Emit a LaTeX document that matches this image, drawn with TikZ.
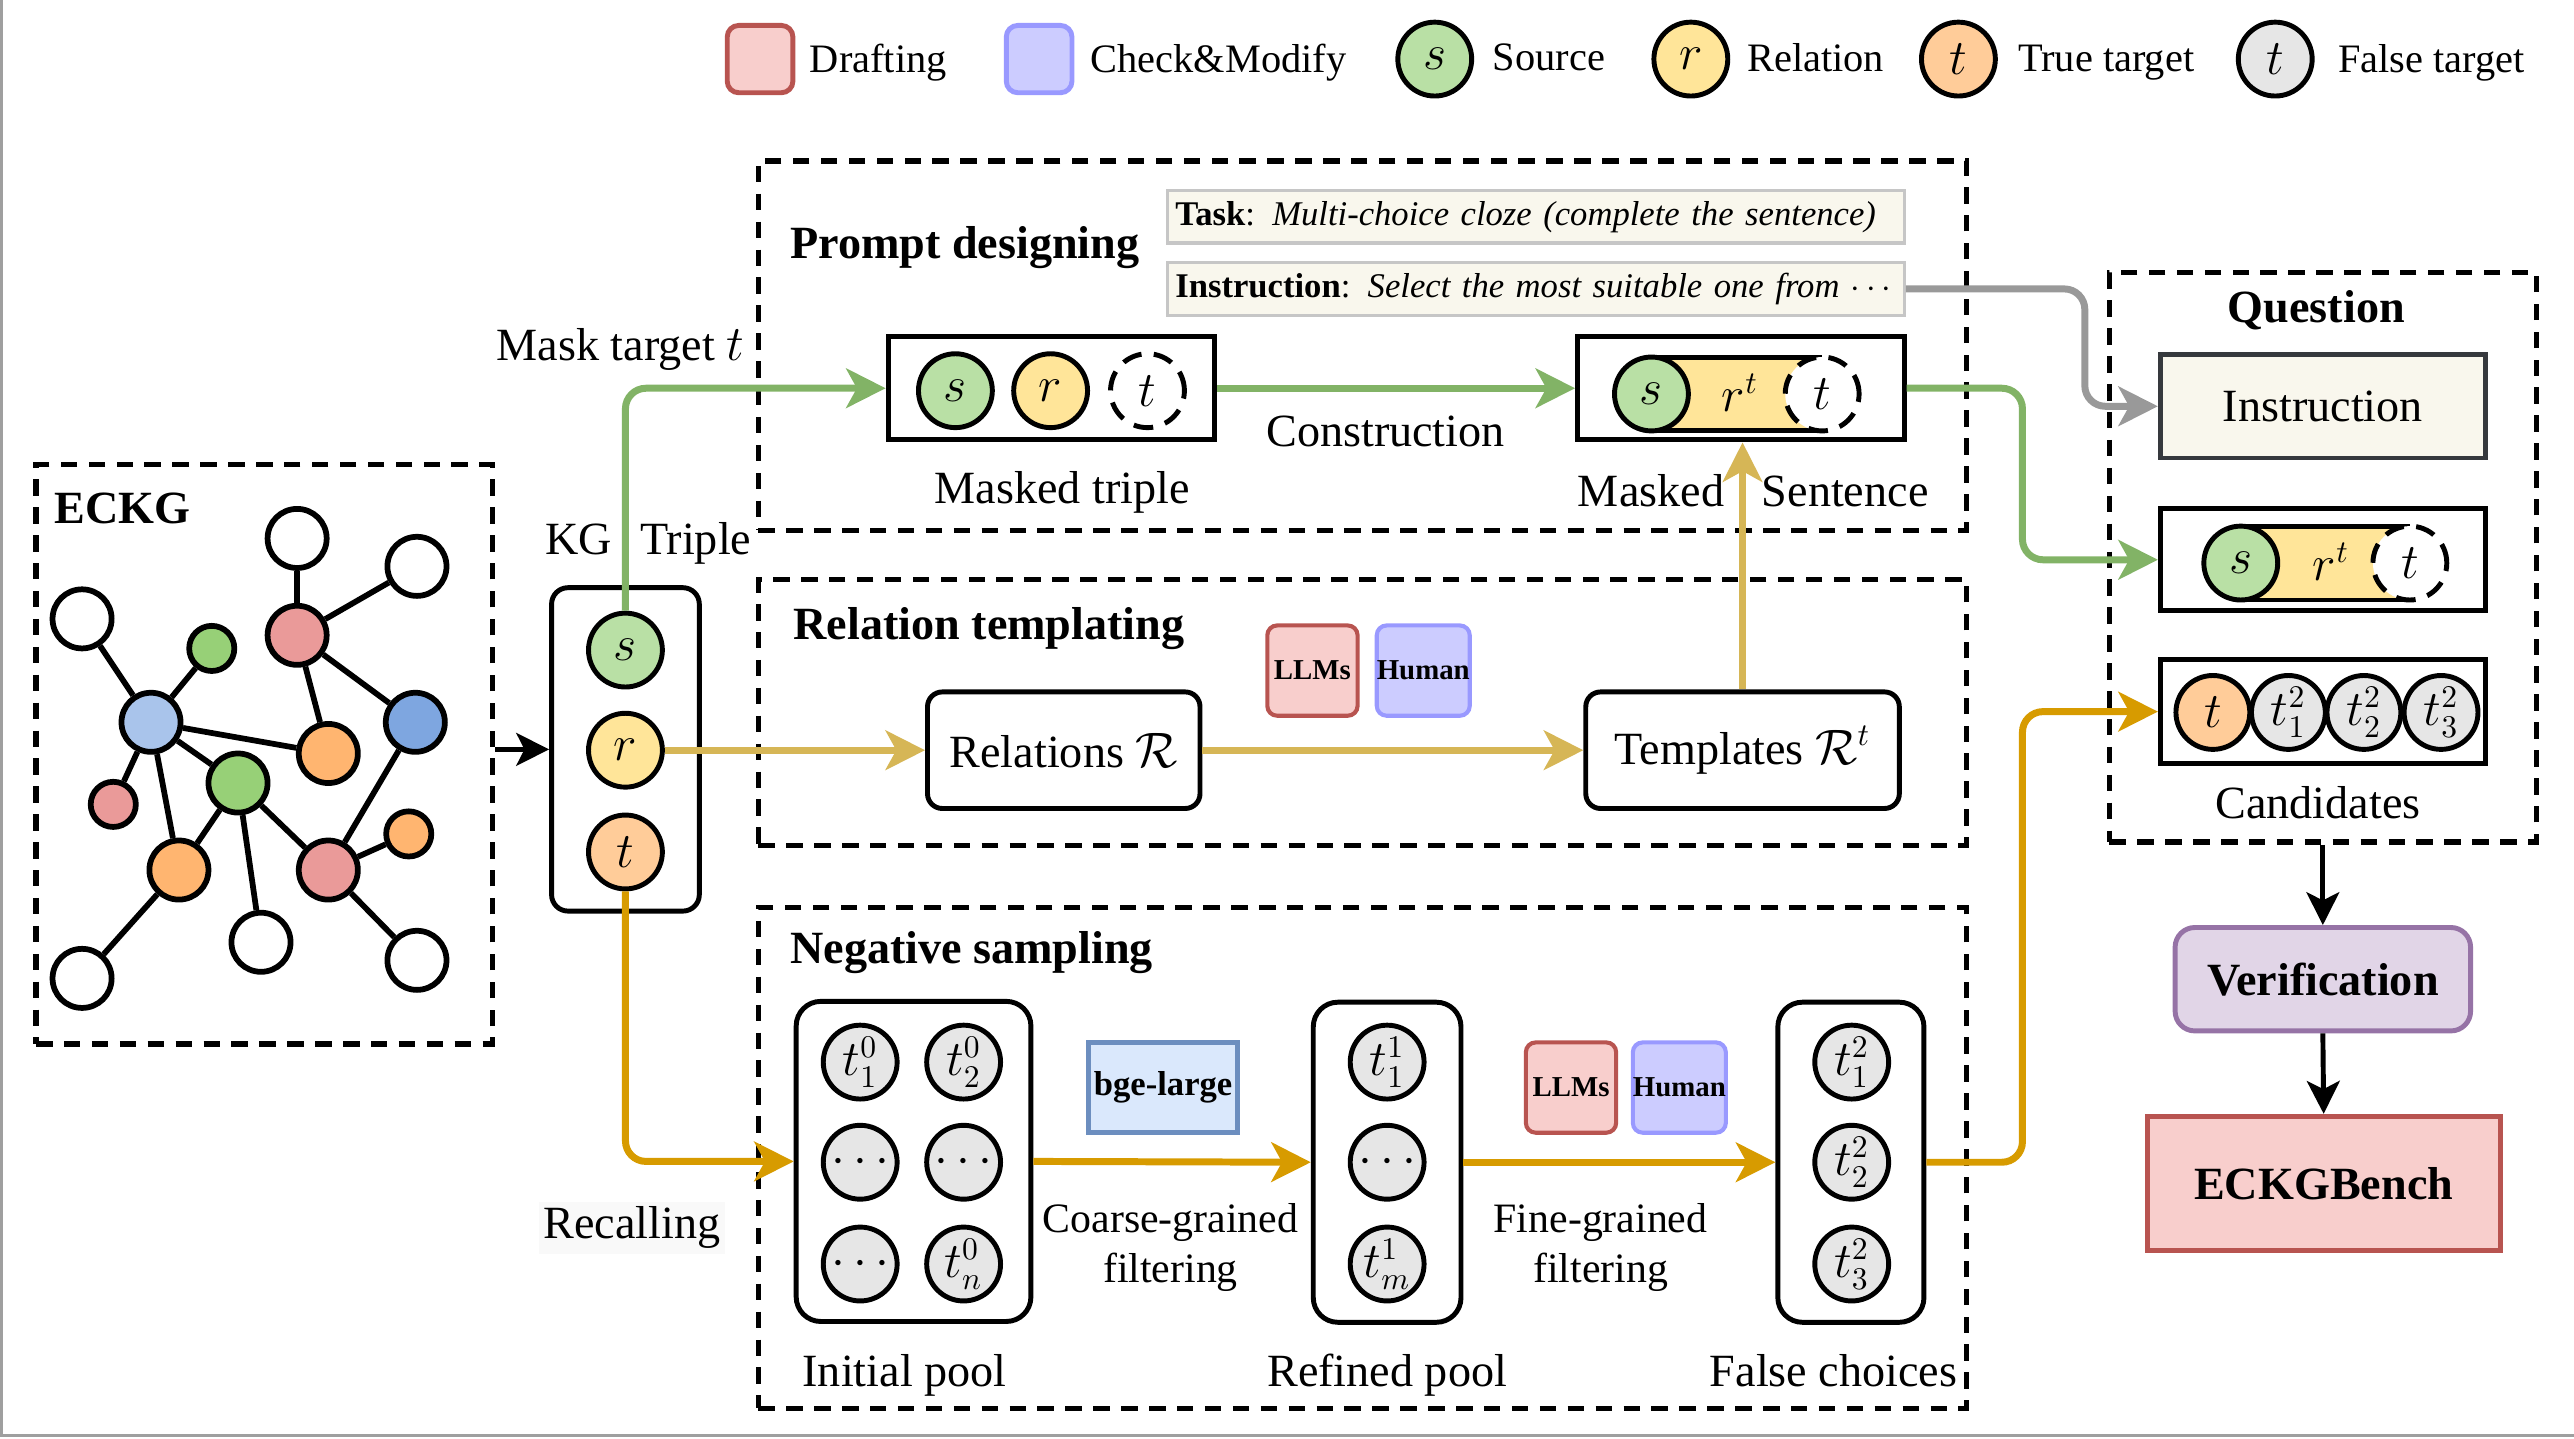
\documentclass[tikz,border=0pt]{standalone}
\usepackage{fontspec}
\setmainfont{Liberation Serif}
\usepackage{xcolor}
\usepackage{tikz}
\usetikzlibrary{positioning,arrows.meta}

\definecolor{draftfill}{HTML}{F8CECC}
\definecolor{draftline}{HTML}{B85450}
\definecolor{checkfill}{HTML}{CCCCFF}
\definecolor{checkline}{HTML}{9999FF}
\definecolor{srcfill}{HTML}{B9E0A5}
\definecolor{relfill}{HTML}{FFE599}
\definecolor{truefill}{HTML}{FFCC99}
\definecolor{falsefill}{HTML}{E6E6E6}
\definecolor{gGreen}{HTML}{97D077}
\definecolor{gPink}{HTML}{EA9A99}
\definecolor{gBlue}{HTML}{A9C4EB}
\definecolor{gBlueDark}{HTML}{7EA6E0}
\definecolor{gOrange}{HTML}{FFB570}
\definecolor{arrGreen}{HTML}{82B366}
\definecolor{arrYellow}{HTML}{D6B656}
\definecolor{arrOrange}{HTML}{D79B00}
\definecolor{arrGray}{HTML}{999999}
\definecolor{noteFill}{HTML}{F9F7ED}
\definecolor{noteLine}{HTML}{36393D}
\definecolor{bgeFill}{HTML}{DAE8FC}
\definecolor{bgeLine}{HTML}{6C8EBF}
\definecolor{verFill}{HTML}{E1D5E7}
\definecolor{verLine}{HTML}{9673A6}

\begin{document}
\begin{tikzpicture}[
        x=0.2mm, y=-0.2mm,
        group/.style={draw, line width=0.65mm, dash pattern=on 2mm off 1.4mm, inner sep=0pt},
        box/.style={draw, line width=0.6mm, inner sep=0pt, font=\fontsize{16}{19}\selectfont},
        rbox/.style={box, rounded corners=1.8mm},
        pool/.style={box, rounded corners=3mm, minimum height=39mm},
        ent/.style={circle, draw, line width=0.6mm, minimum size=9mm, inner sep=0pt, font=\fontsize{16}{19}\selectfont},
        src/.style={ent, fill=srcfill},
        rel/.style={ent, fill=relfill},
        tgt/.style={ent, fill=truefill},
        neg/.style={ent, fill=falsefill},
        hid/.style={ent, fill=white, dash pattern=on 2.4mm off 1.5mm},
        vtx/.style={circle, draw, line width=0.7mm, minimum size=7.2mm, inner sep=0pt, fill=white},
        svtx/.style={vtx, minimum size=5.5mm},
        edge/.style={line width=0.7mm},
        lbl/.style={inner sep=0pt, yshift=-0.6mm, font=\fontsize{16}{19}\selectfont},
        filt/.style={lbl, align=center, font=\fontsize{14.5}{17.6}\selectfont},
        head/.style={inner sep=0pt, anchor=west, yshift=-0.6mm, font=\bfseries\fontsize{16}{19}\selectfont},
        key/.style={inner sep=0pt, anchor=west, yshift=-0.4mm, font=\fontsize{14}{17}\selectfont},
        tag/.style={draw, rounded corners=1.2mm, line width=0.5mm, minimum width=11mm, minimum height=11mm, inner sep=0pt, font=\bfseries\fontsize{10}{12}\selectfont},
        llm/.style={tag, fill=draftfill, draw=draftline},
        hum/.style={tag, fill=checkfill, draw=checkline},
        note/.style={draw=gray!45, fill=noteFill, line width=0.4mm, minimum width=89.8mm, minimum height=6.4mm, text width=87.8mm, align=left, inner xsep=1mm, inner ysep=0pt, font=\fontsize{12}{14}\selectfont},
        arr/.style={line width=0.85mm, rounded corners=2.5mm, -{Stealth[length=4.8mm, width=4.8mm, inset=1.3mm]}},
        blk/.style={line width=0.6mm, -{Stealth[length=4mm, width=4mm, inset=1mm]}},
    ]
        \useasboundingbox (0,0) rectangle (1568,876);
        \draw[gray!75, line width=0.4mm] (1,0) -- (1,874.3) -- (1568,874.3);

        % legend
        \node[draw=draftline, fill=draftfill, line width=0.6mm, rounded corners=1.4mm, minimum width=8mm, minimum height=8.2mm] (lg-draft) at (463,36) {};
        \node[key] (lg-draft-t) at (493,36) {Drafting};
        \node[draw=checkline, fill=checkfill, line width=0.6mm, rounded corners=1.4mm, minimum width=8mm, minimum height=8.2mm] (lg-check) at (633,36) {};
        \node[key] (lg-check-t) at (664,36) {Check\&Modify};
        \node[src] (lg-src) at (874,36) {$s$};
        \node[key] (lg-src-t) at (909,33) {Source};
        \node[rel] (lg-rel) at (1030,36) {$r$};
        \node[key] (lg-rel-t) at (1064,33) {Relation};
        \node[tgt] (lg-tgt) at (1193,36) {$t$};
        \node[key] (lg-tgt-t) at (1229,36) {True target};
        \node[neg] (lg-neg) at (1386,36) {$t$};
        \node[key] (lg-neg-t) at (1424,36) {False target};

        % ECKG
        \node[group, minimum width=55.6mm, minimum height=70.6mm] (eckg) at (161,459.5) {};
        \node[head] (eckg-t) at (33,307) {ECKG};
        \node[vtx] (g1) at (181,328) {};
        \node[vtx] (g2) at (254,345) {};
        \node[vtx] (g3) at (50,377) {};
        \node[svtx, fill=gGreen] (g4) at (129,395) {};
        \node[vtx, fill=gPink] (g5) at (181,387) {};
        \node[vtx, fill=gBlue] (g6) at (92,440) {};
        \node[vtx, fill=gBlueDark] (g7) at (253,440) {};
        \node[vtx, fill=gOrange] (g8) at (200,459) {};
        \node[vtx, fill=gGreen] (g9) at (145,477) {};
        \node[svtx, fill=gPink] (g10) at (69,490) {};
        \node[svtx, fill=gOrange] (g11) at (249,508) {};
        \node[vtx, fill=gOrange] (g12) at (109,530) {};
        \node[vtx, fill=gPink] (g13) at (200,530) {};
        \node[vtx] (g14) at (159,574) {};
        \node[vtx] (g15) at (254,585) {};
        \node[vtx] (g16) at (50,596) {};
        \draw[edge] (g1) -- (g5);
        \draw[edge] (g2) -- (g5);
        \draw[edge] (g3) -- (g6);
        \draw[edge] (g4) -- (g6);
        \draw[edge] (g6) -- (g8);
        \draw[edge] (g5) -- (g8);
        \draw[edge] (g5) -- (g7);
        \draw[edge] (g6) -- (g10);
        \draw[edge] (g6) -- (g12);
        \draw[edge] (g6) -- (g9);
        \draw[edge] (g9) -- (g12);
        \draw[edge] (g9) -- (g14);
        \draw[edge] (g9) -- (g13);
        \draw[edge] (g7) -- (g13);
        \draw[edge] (g13) -- (g11);
        \draw[edge] (g13) -- (g15);
        \draw[edge] (g12) -- (g16);

        % KG triple
        \node[rbox, rounded corners=2mm, minimum width=18mm, minimum height=39.4mm] (kg) at (381,456.5) {};
        \node[lbl] (kg-t) at (395,328) {KG\hspace{3.4mm}Triple};
        \node[src] (kg-s) at (381,396) {$s$};
        \node[rel] (kg-r) at (381,457) {$r$};
        \node[tgt] (kg-tt) at (381,519) {$t$};
        \node[lbl] (mask-t) at (378,210) {Mask target $t$};
        \node[lbl, fill=gray!5, inner sep=0.6mm] (recall-t) at (385,745) {Recalling};

        % prompt designing
        \node[group, minimum width=147.2mm, minimum height=45mm] (prompt) at (830,210.5) {};
        \node[head] (prompt-t) at (481,148) {Prompt designing};
        \node[note] (task) at (935.5,132) {\textbf{Task}: \textit{Multi-choice cloze (complete the sentence)}};
        \node[note] (instr) at (935.5,176) {\textbf{Instruction}: \textit{Select the most suitable one from} $\cdots$};
        \node[box, minimum width=39.8mm, minimum height=12.6mm] (mt) at (640.5,236.5) {};
        \node[src] (mt-s) at (582,238) {$s$};
        \node[rel] (mt-r) at (640,238) {$r$};
        \node[hid] (mt-t) at (699,238) {$t$};
        \node[lbl] (mt-l) at (647,297) {Masked triple};
        \node[lbl] (cons-l) at (844,260) {Construction};
        \node[box, minimum width=39.8mm, minimum height=12.6mm] (ms) at (1060.5,236.5) {};
        \fill[relfill] (1006,217.5) rectangle (1110,262.5);
        \draw[line width=0.6mm] (1006,217.5) -- (1110,217.5) (1006,262.5) -- (1110,262.5);
        \node[src] (ms-s) at (1006,240) {$s$};
        \node[hid] (ms-t) at (1110,240) {$t$};
        \node[lbl] (ms-r) at (1060,236) {$r^t$};
        \node[lbl] (ms-l) at (1068,296) {Masked\hspace{4.6mm}Sentence};

        % relation templating
        \node[group, minimum width=147.2mm, minimum height=32.4mm] (reltpl) at (830,434) {};
        \node[head] (reltpl-t) at (483,380) {Relation templating};
        \node[rbox, minimum width=33.2mm, minimum height=14.2mm] (rels) at (648,457) {Relations $\mathcal{R}$};
        \node[rbox, minimum width=38.2mm, minimum height=14.2mm] (tmpl) at (1061.5,457) {Templates $\mathcal{R}^t$};
        \node[llm] (rt-llm) at (799.5,408.5) {LLMs};
        \node[hum] (rt-hum) at (867,408.5) {Human};

        % negative sampling
        \node[group, minimum width=147.2mm, minimum height=61mm] (negs) at (830,705.5) {};
        \node[head] (negs-t) at (481,577) {Negative sampling};
        \node[pool, minimum width=28.6mm] (ip) at (556.5,707.5) {};
        \node[neg] (ip-1) at (524,647) {$t_1^0$};
        \node[neg] (ip-2) at (587,647) {$t_2^0$};
        \node[neg] (ip-3) at (524,708) {$\cdots$};
        \node[neg] (ip-4) at (587,708) {$\cdots$};
        \node[neg] (ip-5) at (524,770) {$\cdots$};
        \node[neg] (ip-6) at (587,770) {$t_n^0$};
        \node[lbl] (ip-l) at (551,835) {Initial pool};
        \node[draw=bgeLine, fill=bgeFill, line width=0.6mm, minimum width=18.2mm, minimum height=11mm, inner sep=0pt, font=\bfseries\fontsize{12}{14}\selectfont] (bge) at (708.5,662.5) {bge-large};
        \node[filt] (coarse-l) at (713,757) {Coarse-grained\\filtering};
        \node[pool, minimum width=18mm] (rp) at (845,708) {};
        \node[neg] (rp-1) at (845,647) {$t_1^1$};
        \node[neg] (rp-2) at (845,708) {$\cdots$};
        \node[neg] (rp-3) at (845,770) {$t_m^1$};
        \node[lbl] (rp-l) at (845,835) {Refined pool};
        \node[llm] (ns-llm) at (957,662.5) {LLMs};
        \node[hum] (ns-hum) at (1023,662.5) {Human};
        \node[filt] (fine-l) at (975,757) {Fine-grained\\filtering};
        \node[pool, minimum width=17.8mm] (fc) at (1127.5,708) {};
        \node[neg] (fc-1) at (1128,647) {$t_1^2$};
        \node[neg] (fc-2) at (1128,708) {$t_2^2$};
        \node[neg] (fc-3) at (1128,770) {$t_3^2$};
        \node[lbl] (fc-l) at (1117,832) {False choices};

        % question
        \node[group, minimum width=52mm, minimum height=69.4mm] (qbox) at (1415,339.5) {};
        \node[lbl, font=\bfseries\fontsize{16}{19}\selectfont] (q-t) at (1411,186) {Question};
        \node[box, draw=noteLine, fill=noteFill, minimum width=39.6mm, minimum height=12.6mm] (q-in) at (1415,247.5) {Instruction};
        \node[box, minimum width=39.6mm, minimum height=12.4mm] (q-ms) at (1415,341) {};
        \fill[relfill] (1365,320.5) rectangle (1468,365.5);
        \draw[line width=0.6mm] (1365,320.5) -- (1468,320.5) (1365,365.5) -- (1468,365.5);
        \node[src] (q-s) at (1365,343) {$s$};
        \node[hid] (q-tt) at (1468,343) {$t$};
        \node[lbl] (q-r) at (1420,339) {$r^t$};
        \node[box, minimum width=39.6mm, minimum height=12.6mm] (cand) at (1415,433.5) {};
        \node[tgt] (cand-t) at (1348,434) {$t$};
        \node[neg] (cand-1) at (1394,434) {$t_1^2$};
        \node[neg] (cand-2) at (1440,434) {$t_2^2$};
        \node[neg] (cand-3) at (1487,434) {$t_3^2$};
        \node[lbl] (cand-l) at (1412,486) {Candidates};

        \node[box, draw=verLine, fill=verFill, rounded corners=2.4mm, minimum width=36mm, minimum height=12.6mm, font=\bfseries\fontsize{16}{19}\selectfont] (ver) at (1415,596.5) {Verification};
        \node[box, draw=draftline, fill=draftfill, minimum width=43mm, minimum height=16.4mm, font=\bfseries\fontsize{16}{19}\selectfont] (bench) at (1415.5,721) {ECKGBench};

        \coordinate (bendA) at (1232,0);
        \coordinate (bendB) at (1270,0);

        % connectors
        \draw[blk] (eckg.east |- kg.west) -- (kg.west);
        \draw[arr, arrGreen] (kg-s.north) |- (mt.west);
        \draw[arr, arrGreen] (mt.east) -- (ms.west);
        \draw[arr, arrGreen] (ms.east) -| (bendA |- q-ms.west) -- (q-ms.west);
        \draw[arr, arrGray] (instr.east) -| (bendB |- q-in.west) -- (q-in.west);
        \draw[arr, arrYellow] (kg-r.east) -- (rels.west);
        \draw[arr, arrYellow] (rels.east) -- (tmpl.west);
        \draw[arr, arrYellow] (tmpl.north) -- (tmpl.north |- ms.south);
        \draw[arr, arrOrange] (kg-tt.south) |- (ip.west);
        \draw[arr, arrOrange] (ip.east) -- (rp.west);
        \draw[arr, arrOrange] (rp.east) -- (fc.west);
        \draw[arr, arrOrange] (fc.east) -| (bendA |- cand.west) -- (cand.west);
        \draw[blk] (qbox.south) -- (ver.north);
        \draw[blk] (ver.south) -- (bench.north);
    \end{tikzpicture}
\end{document}
